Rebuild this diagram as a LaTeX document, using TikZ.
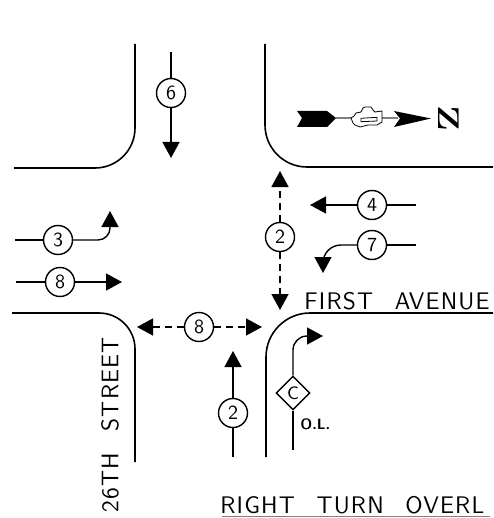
\documentclass[tikz,border=0pt]{standalone}
\usepackage{fontspec}
\newfontfamily\cadfont[LetterSpace = 5, WordSpace = 2.4]{Latin Modern Sans}
\usetikzlibrary{arrows.meta, shapes.geometric}
\tikzset{
curb/.style = {line width = 0.8pt},
move/.style = {line width = 0.7pt, -{Triangle[length = 8pt, width = 8.5pt]}},
stub/.style = {line width = 0.7pt},
dashmove/.style = {move, dash pattern = on 3.5pt off 2.5pt},
phase/.style = {shape = circle, draw, line width = 0.7pt, minimum size = 14.5pt, inner sep = 0pt, font = \sffamily\fontsize{10}{10}\selectfont},
overlap/.style = {shape = diamond, draw, line width = 0.7pt, minimum size = 17pt, inner sep = 0pt, font = \sffamily\fontsize{9}{9}\selectfont},
street/.style = {inner sep = 0pt, font = \cadfont\fontsize{12}{12}\selectfont},
shaft/.style = {line width = 0.8pt, black!50}
}
\begin{document}
\begin{tikzpicture}[x = 0.5pt, y = -0.5pt]
\useasboundingbox (0,0) rectangle (493,518);
\draw[curb, rounded corners = 20pt] (135,44) |- (14,168);
\draw[curb, rounded corners = 21pt] (265,44) |- (493,167);
\draw[curb, rounded corners = 18pt] (12,313) -| (135,462);
\draw[curb, rounded corners = 22pt] (266,457) |- (493,313);
\node[phase] (p6) at (171,93) {6};
\node[phase] (p4) at (372,205) {4};
\node[phase] (p7) at (372,245) {7};
\node[phase] (p2a) at (280,237) {2};
\node[phase] (p3) at (58,240) {3};
\node[phase] (p8a) at (60,282) {8};
\node[phase] (p8b) at (199,327) {8};
\node[phase] (p2b) at (233,413) {2};
\node[overlap] (pc) at (293,393) {C};
\coordinate (p6top) at (171,52);
\coordinate (p6tip) at (171,158);
\coordinate (p4end) at (416,205);
\coordinate (p4tip) at (310,205);
\coordinate (p7end) at (416,245);
\coordinate (p7tip) at (323,273);
\coordinate (p2atop) at (280,171);
\coordinate (p2abot) at (280,310);
\coordinate (p3end) at (15,240);
\coordinate (p3tip) at (110,211);
\coordinate (p8aend) at (16,282);
\coordinate (p8atip) at (122,282);
\coordinate (p8bleft) at (137,327);
\coordinate (p8bright) at (262,327);
\coordinate (p2bend) at (233,457);
\coordinate (p2btip) at (233,351);
\coordinate (pcend) at (293,450);
\coordinate (pctip) at (323,336);
\draw[stub] (p6top) -- (p6);
\draw[move] (p6) -- (p6tip);
\draw[stub] (p4end) -- (p4);
\draw[move] (p4) -- (p4tip);
\draw[stub] (p7end) -- (p7);
\draw[move, rounded corners = 9pt] (p7) -| (p7tip);
\draw[dashmove] (p2a) -- (p2atop);
\draw[dashmove] (p2a) -- (p2abot);
\draw[stub] (p3end) -- (p3);
\draw[move, rounded corners = 6pt] (p3) -| (p3tip);
\draw[stub] (p8aend) -- (p8a);
\draw[move] (p8a) -- (p8atip);
\draw[dashmove] (p8b) -- (p8bleft);
\draw[dashmove] (p8b) -- (p8bright);
\draw[stub] (p2bend) -- (p2b);
\draw[move] (p2b) -- (p2btip);
\draw[stub] (pcend) -- (pc);
\draw[move, rounded corners = 7pt] (pc) |- (pctip);
\node[street, anchor = west] (first) at (304,301) {FIRST AVENUE};
\node[street, anchor = west] (turn) at (220,505) {RIGHT TURN OVERL};
\node[street, anchor = west, rotate = 90] (sixth) at (110,513) {26TH STREET};
\node[inner sep = 0pt, anchor = west, font = \sffamily\bfseries\fontsize{7.5}{7.5}\selectfont] (ol) at (300,424) {O.L.};
\draw[shaft] (222,516.5) -- (490,516.5);
\fill (297,111) -- (327,111) -- (336,118) -- (327,127) -- (297,127) -- (302,118) -- cycle;
\draw[shaft] (336,118) -- (351,118);
\draw[shaft] (382,118) -- (398,118);
\draw[line width = 0.4pt] (351,118) -- (354,116) -- (356,113) -- (361,112) -- (363,108) -- (365,107) -- (371,107) -- (373,110) -- (375,112) -- (382,111) -- (382,122) -- (377,125) -- (368,125) -- (360,127) -- (355,125) -- (353,123) -- cycle;
\draw[line width = 0.4pt] (361,118.3) -- (377,117.3) -- (377,121) -- (361,121.7) -- cycle;
\fill (394,111) -- (431,118.5) -- (394,127) -- (400,118.5) -- cycle;
\node[inner sep = 0pt, rotate = -90, xscale = 1.25, font = \rmfamily\bfseries\fontsize{15}{15}\selectfont] (north) at (449,118.5) {Z};
\end{tikzpicture}
\end{document}
